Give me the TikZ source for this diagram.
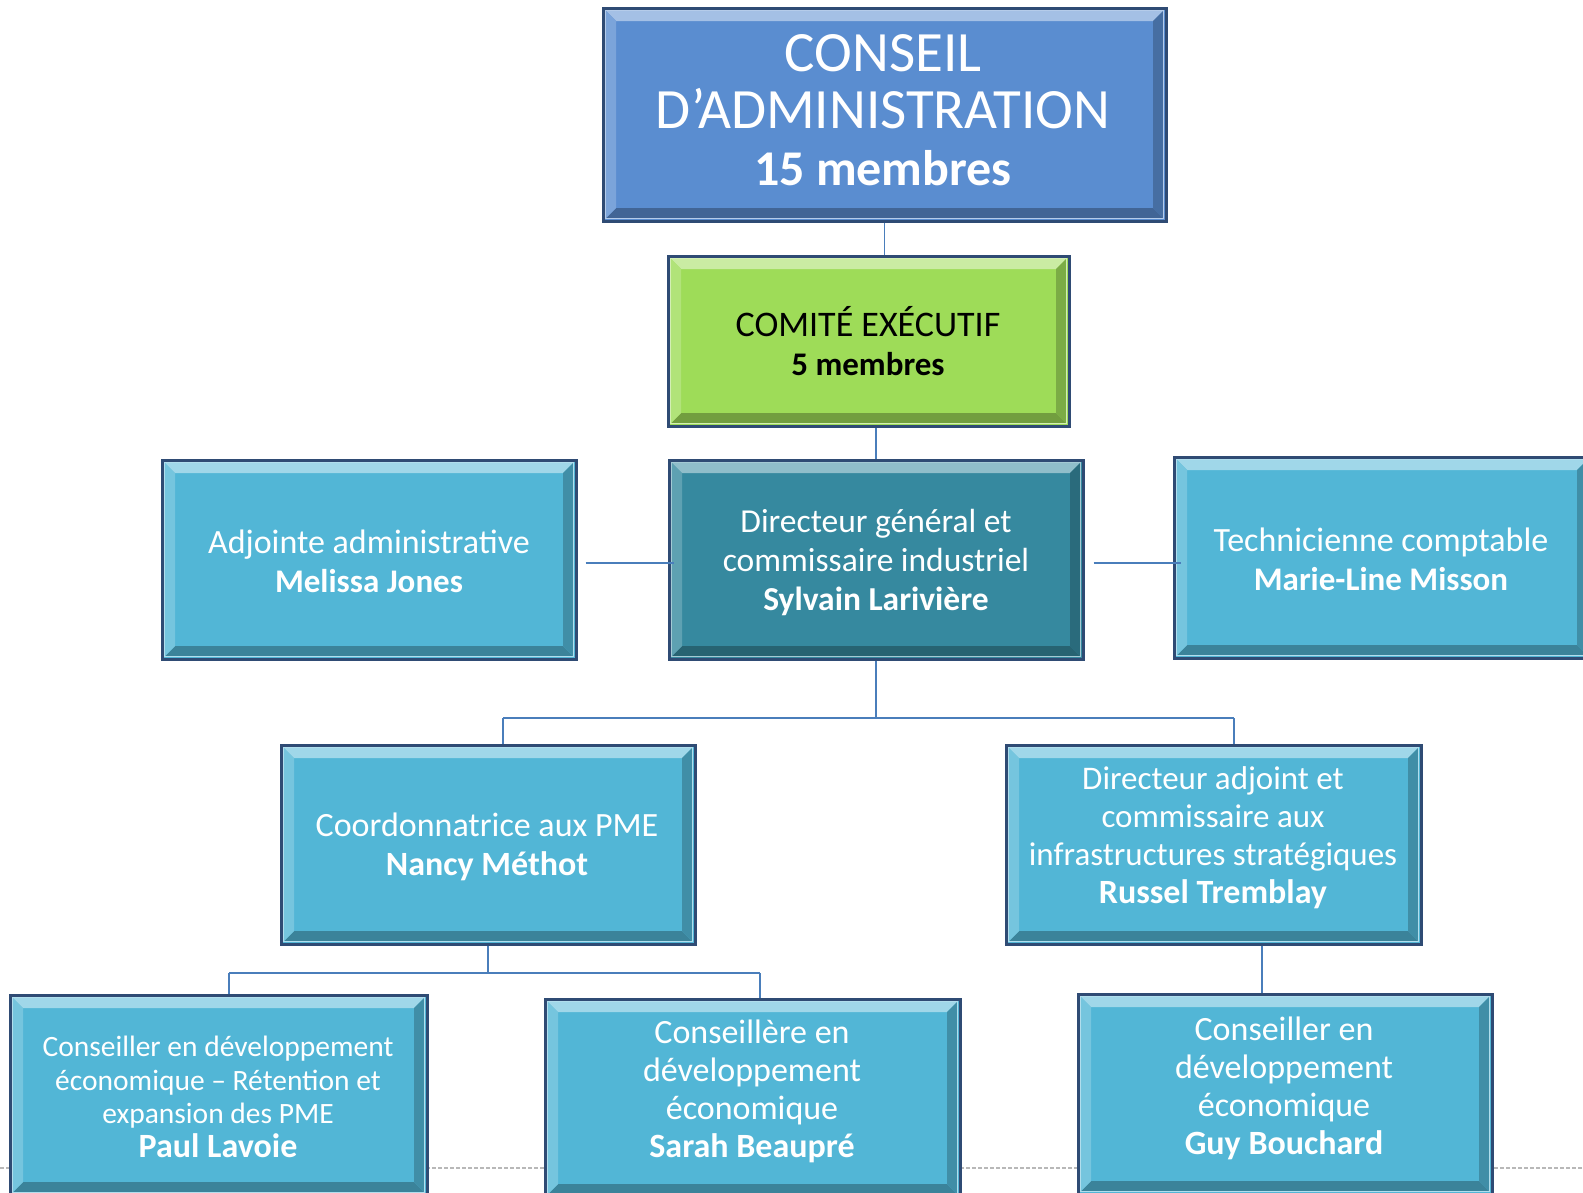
\documentclass[tikz,border=0pt]{standalone}
\usepackage{fontspec}
\setmainfont{Carlito}
\definecolor{bord}{HTML}{2F4B74}
\definecolor{cblue}{HTML}{5A8DD0}
\definecolor{cgreen}{HTML}{9EDC58}
\definecolor{ccyan}{HTML}{52B6D6}
\definecolor{cteal}{HTML}{36899F}
\definecolor{cline}{HTML}{4A7EBB}
\tikzset{
  bev/.style={rectangle, inner sep=0pt, fill=#1, draw=bord, line width=3pt,
    path picture={
      \coordinate (pa) at (path picture bounding box.south west);
      \coordinate (pb) at (path picture bounding box.north east);
      \coordinate (o1) at ([xshift=3pt,yshift=3pt]pa);
      \coordinate (o2) at ([xshift=-3pt,yshift=-3pt]pb);
      \coordinate (i1) at ([xshift=13pt,yshift=13pt]pa);
      \coordinate (i2) at ([xshift=-13pt,yshift=-13pt]pb);
      \fill[#1!55!white] (o1|-o2) -- (o2) -- (i2) -- (i1|-i2) -- cycle;
      \fill[#1!72!black] (o1) -- (o2|-o1) -- (i2|-i1) -- (i1) -- cycle;
      \fill[#1!80!white] (o1) -- (o1|-o2) -- (i1|-i2) -- (i1) -- cycle;
      \fill[#1!78!black] (o2|-o1) -- (o2) -- (i2) -- (i2|-i1) -- cycle;
      \draw[#1!45!white, line width=1pt] ([xshift=2.5pt,yshift=2.5pt]pa) rectangle ([xshift=-2.5pt,yshift=-2.5pt]pb);
    }},
  txt/.style={align=center, text=white, inner sep=0pt, font=\fontsize{34}{39}\selectfont},
  conn/.style={draw=cline, line width=1.5pt},
  sep/.style={draw=black!28, line width=1.2pt, dash pattern=on 4pt off 2pt}
}
\begin{document}
\begin{tikzpicture}[x=1pt,y=-1pt]
\useasboundingbox (0,0) rectangle (1583,1192);
\fill[white] (0,0) rectangle (1583,1192);
\coordinate (sepL) at (0,1168);
\coordinate (sepR) at (1583,1168);
\draw[sep] (sepL) -- (sepR);

% boxes
\node[bev=cblue, minimum width=563pt, minimum height=213pt] (conseil) at (884.5,114.5) {};
\node[bev=cgreen, minimum width=401pt, minimum height=170pt] (comite) at (868.5,341) {};
\node[bev=ccyan, minimum width=414pt, minimum height=199pt] (adj) at (369,559.5) {};
\node[bev=cteal, minimum width=414pt, minimum height=199pt] (dg) at (876,559.5) {};
\node[bev=ccyan, minimum width=416pt, minimum height=201pt] (tech) at (1382,557.5) {};
\node[bev=ccyan, minimum width=414pt, minimum height=199pt] (coord) at (488,844.5) {};
\node[bev=ccyan, minimum width=415pt, minimum height=199pt] (diradj) at (1213.5,844.5) {};
\node[bev=ccyan, minimum width=417pt, minimum height=200pt] (paul) at (218.5,1095) {};
\node[bev=ccyan, minimum width=415pt, minimum height=198pt] (sarah) at (752.5,1098) {};
\node[bev=ccyan, minimum width=414pt, minimum height=200pt] (guy) at (1285,1094) {};

% texts
\node[txt, font=\fontsize{57}{57}\selectfont] (conseil-t) at (883,110) {CONSEIL\\D’ADMINISTRATION\\\textbf{\fontsize{50}{57}\selectfont 15 membres}};
\node[txt, text=black, font=\fontsize{36}{39}\selectfont] (comite-t) at (868,341) {COMITÉ EXÉCUTIF\\\textbf{\fontsize{33}{39}\selectfont 5 membres}};
\node[txt] (adj-t) at (369,561) {Adjointe administrative\\\textbf{\fontsize{33}{39}\selectfont Melissa Jones}};
\node[txt, font=\fontsize{33.5}{39}\selectfont] (dg-t) at (876,562) {Directeur général et\\commissaire industriel\\\textbf{Sylvain Larivière}};
\node[txt] (tech-t) at (1381,559) {Technicienne comptable\\\textbf{\fontsize{33}{39}\selectfont Marie-Line Misson}};
\node[txt] (coord-t) at (487,847) {Coordonnatrice aux PME\\\textbf{Nancy Méthot}};
\node[txt, font=\fontsize{33}{38}\selectfont] (diradj-t) at (1213,838) {Directeur adjoint et\\commissaire aux\\infrastructures stratégiques\\\textbf{\fontsize{34}{38}\selectfont Russel Tremblay}};
\node[txt, font=\fontsize{29.5}{33.5}\selectfont] (paul-t) at (218,1097) {Conseiller en développement\\économique – Rétention et\\expansion des PME\\\textbf{\fontsize{34}{37}\selectfont Paul Lavoie}};
\node[txt, font=\fontsize{34}{38}\selectfont] (sarah-t) at (752,1091) {Conseillère en\\développement\\économique\\\textbf{Sarah Beaupré}};
\node[txt, font=\fontsize{34}{38}\selectfont] (guy-t) at (1284,1088) {Conseiller en\\développement\\économique\\\textbf{Guy Bouchard}};

% connectors
\draw[conn] (conseil.south) -- (conseil.south |- comite.north);
\draw[conn] (dg.north) -- (dg.north |- comite.south);
\draw[conn] ([xshift=8pt,yshift=-3.5pt]adj.east) -- ([xshift=6pt,yshift=-3.5pt]dg.west);
\draw[conn] ([xshift=9pt,yshift=-3.5pt]dg.east) -- ([xshift=8pt,yshift=-3.5pt]dg.east -| tech.west);
\coordinate (busL) at (503,718);
\coordinate (busR) at (1234,718);
\draw[conn] (dg.south) -- (dg.south |- busL);
\draw[conn] (busL) -- (busR);
\draw[conn] (busL) -- (busL |- coord.north);
\draw[conn] (busR) -- (busR |- diradj.north);
\coordinate (bus2L) at (229,973);
\coordinate (bus2R) at (760,973);
\draw[conn] (coord.south) -- (coord.south |- bus2L);
\draw[conn] (bus2L) -- (bus2R);
\draw[conn] (bus2L) -- (bus2L |- paul.north);
\draw[conn] (bus2R) -- (bus2R |- sarah.north);
\coordinate (gx) at (1262,0);
\draw[conn] (diradj.south -| gx) -- (guy.north -| gx);
\end{tikzpicture}
\end{document}
